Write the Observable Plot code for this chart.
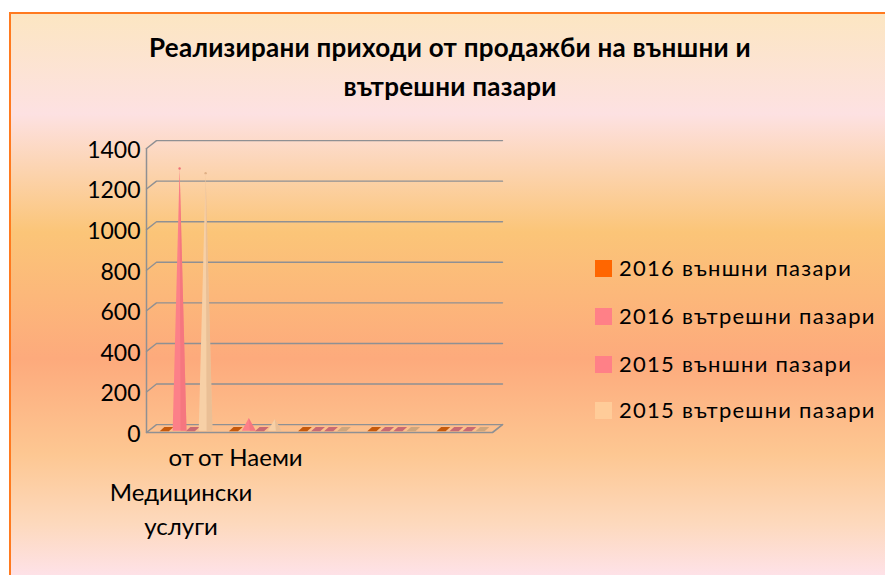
<!DOCTYPE html>
<html lang="bg"><head><meta charset="utf-8">
<script src="https://cdn.jsdelivr.net/npm/d3@7"></script>
<script src="https://cdn.jsdelivr.net/npm/@observablehq/plot@0.6"></script>
<style>
html,body{margin:0;padding:0;background:#fff;width:885px;height:575px;overflow:hidden}
body{position:relative;font-family:Lato,sans-serif;color:#000}
#bg{position:absolute;left:9px;top:12px;right:0;bottom:0;box-sizing:border-box;border-left:2px solid #ff7a1f;border-top:2px solid #ff7a1f;
background:linear-gradient(180deg,#fce6c2 0px,#fde1e2 100px,#fbc578 218px,#fdaa7c 345px,#fdc792 440px,#fdd9bd 510px,#fee2e9 563px)}
#title{position:absolute;left:100px;width:700px;top:28px;text-align:center;font-weight:700;font-size:26px;line-height:39px;letter-spacing:.25px}
#plot{position:absolute;left:0;top:0}
#plot svg{overflow:visible;background:transparent}
#legend{position:absolute;left:595px;top:0}
.row{position:absolute;left:0;white-space:nowrap;font-size:22px;line-height:24px;letter-spacing:1.25px}
.sw{position:absolute;left:0;top:3px;width:17px;height:17px}
.row span{position:absolute;left:24px;top:-1px}
</style></head><body>
<div id="bg"></div>
<div id="title">Реализирани приходи от продажби на външни и<br>вътрешни пазари</div>
<div id="plot"></div>
<div id="legend"></div>
<script>
const categories = ["от\nМедицински\nуслуги", "от Наеми", "", "", ""];
const seriesNames = ["2016 външни пазари", "2016 вътрешни пазари", "2015 външни пазари", "2015 вътрешни пазари"];
const ext2016 = [0, 0, 0, 0, 0];
const int2016 = [1285, 55, 0, 0, 0];
const ext2015 = [0, 0, 0, 0, 0];
const int2015 = [1262, 50, 0, 0, 0];
const yTicks = [0, 200, 400, 600, 800, 1000, 1200, 1400];
const legendColors = ["#ff6600", "#ff8087", "#ff8087", "#ffcc99"];
const floorColors = ["#c75a0c", "#c96a72", "#c96a72", "#cfa67c"];
const coneColors = ["#ff6600", "#fc8088", "#fc8088", "#f7d0a6"];
const coneShade = ["#e85c00", "#ee7078", "#ee7078", "#e0b086"];
const legendRows = [257, 305, 353, 399];

const series = [ext2016, int2016, ext2015, int2015];
const depthX = 0.1445, depthY = 39;            // 3D wall offset in data units
const slot = [-0.282, -0.094, 0.094, 0.282];

const walls = [];
yTicks.forEach(v => {
  walls.push({k: v, x: 0, y: v}, {k: v, x: depthX, y: v + depthY}, {k: v, x: 5 + depthX, y: v + depthY});
});
const floorEdge = [{x: 0, y: 0}, {x: 5, y: 0}, {x: 5 + depthX, y: depthY}];

const flats = [], cones = [], shades = [], tips = [];
series.forEach((vals, s) => vals.forEach((v, i) => {
  const cx = i + 0.5 + slot[s] + depthX / 2, cy = depthY / 2 - 3;
  const key = s + "-" + i;
  if (v > 0) {
    const w = 0.1;
    cones.push({k: key, s, x: cx - w, y: cy - 8}, {k: key, s, x: cx, y: cy + v}, {k: key, s, x: cx + w, y: cy - 8});
    shades.push({k: key, s, x: cx + w * 0.15, y: cy - 8}, {k: key, s, x: cx, y: cy + v}, {k: key, s, x: cx + w, y: cy - 8});
    if (v > 500) tips.push({s, x: cx, y: cy + v});
  } else {
    const w = 0.066, dxx = 0.034, dyy = 10;
    [[-w - dxx, -dyy], [w - dxx, -dyy], [w + dxx, dyy], [-w + dxx, dyy]].forEach(([a, b]) =>
      flats.push({k: key, s, x: cx + a, y: cy + b}));
  }
}));

const gray = "#8f9093";
const chart = Plot.plot({
  width: 885, height: 575,
  marginLeft: 146, marginRight: 393, marginTop: 148, marginBottom: 143,
  x: {domain: [0, 5], axis: null},
  y: {domain: [0, 1400], axis: null},
  style: {background: "transparent", fontFamily: "Lato, sans-serif", overflow: "visible"},
  marks: [
    Plot.axisY({ticks: yTicks, tickSize: 0, tickPadding: 6, label: null, fontSize: 23, dy: 2, tickFormat: d => String(d), fill: "#000"}),
    Plot.line(walls, {x: "x", y: "y", z: "k", stroke: gray, strokeWidth: 1.4, clip: false}),
    Plot.ruleX([0], {y1: 0, y2: 1400, stroke: gray, strokeWidth: 1.5}),
    Plot.line(floorEdge, {x: "x", y: "y", stroke: gray, strokeWidth: 1.6}),
    Plot.line(flats, {x: "x", y: "y", z: "k", fill: d => floorColors[d.s], stroke: "none", curve: "linear-closed"}),
    Plot.line(cones, {x: "x", y: "y", z: "k", fill: d => coneColors[d.s], stroke: "none", curve: "linear-closed"}),
    Plot.line(shades, {x: "x", y: "y", z: "k", fill: d => coneShade[d.s], fillOpacity: 0.55, stroke: "none", curve: "linear-closed"}),
    Plot.dot(tips, {x: "x", y: "y", r: 1.2, fill: d => coneShade[d.s], stroke: "none"}),
    Plot.text(categories.map((c, i) => ({c, i})), {
      x: d => d.i + 0.5, y: 0, text: "c", dy: 9, dx: 0, fontSize: 24, fill: "#000",
      textAnchor: "middle", lineAnchor: "top", lineHeight: 1.44
    })
  ]
});
document.getElementById("plot").append(chart);

const legend = document.getElementById("legend");
seriesNames.forEach((n, i) => {
  const r = document.createElement("div");
  r.className = "row"; r.style.top = legendRows[i] + "px";
  const sw = document.createElement("div");
  sw.className = "sw"; sw.style.background = legendColors[i];
  const t = document.createElement("span"); t.textContent = n;
  r.append(sw, t); legend.append(r);
});
</script></body></html>
